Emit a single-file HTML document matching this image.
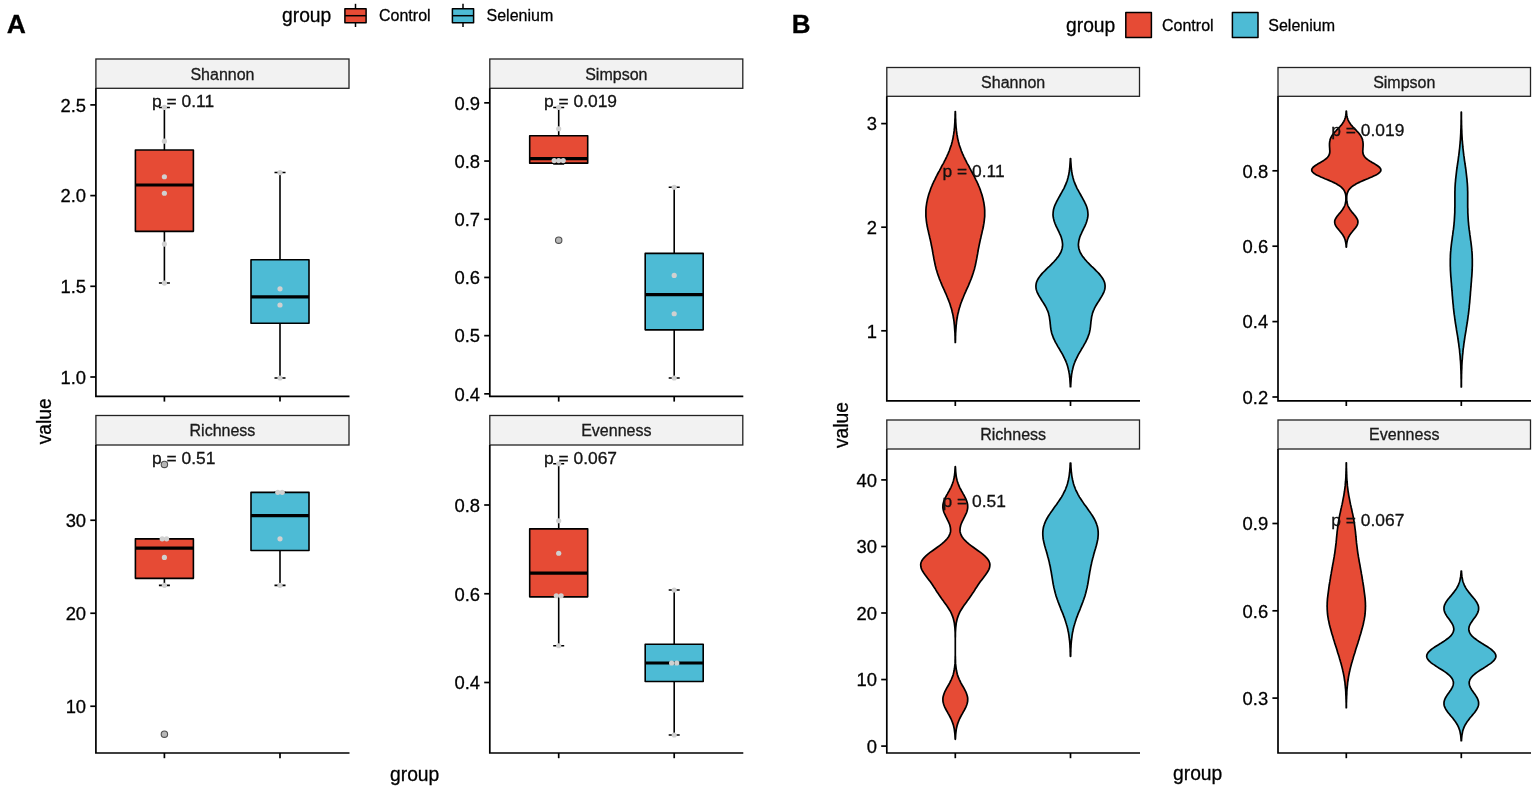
<!DOCTYPE html><html><head><meta charset="utf-8"><title>Figure</title>
<style>html,body{margin:0;padding:0;background:#fff}svg{display:block;filter:blur(.45px)}text{font-family:"Liberation Sans", Arial, sans-serif;stroke:#000;stroke-width:.28px;paint-order:stroke}</style></head><body>
<svg width="1535" height="795" viewBox="0 0 1535 795">
<rect width="1535" height="795" fill="#fff"/>
<text x="6.8" y="33" font-size="26.5" font-weight="bold" fill="#000">A</text>
<text x="282" y="22.4" font-size="19.3" fill="#000">group</text>
<path d="M355.5 3.8V27" stroke="#000" stroke-width="1.5"/>
<rect x="344.9" y="8.7" width="21.2" height="14" fill="#E64B35" stroke="#000" stroke-width="1.5" stroke-linejoin="round"/>
<path d="M344.9 15.7h21.2" stroke="#000" stroke-width="1.5"/>
<path d="M463 3.8V27" stroke="#000" stroke-width="1.5"/>
<rect x="452.4" y="8.7" width="21.2" height="14" fill="#4DBBD5" stroke="#000" stroke-width="1.5" stroke-linejoin="round"/>
<path d="M452.4 15.7h21.2" stroke="#000" stroke-width="1.5"/>
<text x="379" y="21.4" font-size="16" fill="#000">Control</text>
<text x="486.5" y="21.4" font-size="16" fill="#000">Selenium</text>
<text transform="translate(50.5 421.3) rotate(-90)" font-size="19.3" text-anchor="middle" fill="#000">value</text>
<text x="390" y="781.1" font-size="19.3" fill="#000">group</text>
<rect x="95.9" y="59" width="253.1" height="29.3" fill="#f2f2f2" stroke="#222" stroke-width="1.3"/>
<text x="222.45" y="79.6" font-size="16" text-anchor="middle" fill="#1a1a1a">Shannon</text>
<path d="M95.9 88.3V396.4H349.5" fill="none" stroke="#000" stroke-width="1.7"/>
<path d="M164.4 396.4v5.2" stroke="#000" stroke-width="1.7"/>
<path d="M280 396.4v5.2" stroke="#000" stroke-width="1.7"/>
<path d="M90.3 104.9H95.9" stroke="#000" stroke-width="1.7"/>
<text x="86.1" y="111.7" font-size="18.4" text-anchor="end" fill="#000">2.5</text>
<path d="M90.3 195.6H95.9" stroke="#000" stroke-width="1.7"/>
<text x="86.1" y="202.4" font-size="18.4" text-anchor="end" fill="#000">2.0</text>
<path d="M90.3 286.3H95.9" stroke="#000" stroke-width="1.7"/>
<text x="86.1" y="293.1" font-size="18.4" text-anchor="end" fill="#000">1.5</text>
<path d="M90.3 377H95.9" stroke="#000" stroke-width="1.7"/>
<text x="86.1" y="383.8" font-size="18.4" text-anchor="end" fill="#000">1.0</text>
<path d="M164.4 107.44V283.03M158.9 107.44h11M158.9 283.03h11" stroke="#000" stroke-width="1.6" fill="none"/>
<rect x="135.4" y="150.07" width="58" height="81.27" fill="#E64B35" stroke="#000" stroke-width="1.6" stroke-linejoin="round"/>
<path d="M135.4 184.99h58" stroke="#000" stroke-width="3.2"/>
<circle cx="164.4" cy="107.44" r="2.6" fill="#d0d0d0"/>
<circle cx="164.4" cy="141.18" r="2.6" fill="#d0d0d0"/>
<circle cx="164.4" cy="176.73" r="2.6" fill="#d0d0d0"/>
<circle cx="164.4" cy="193.24" r="2.6" fill="#d0d0d0"/>
<circle cx="164.4" cy="244.03" r="2.6" fill="#d0d0d0"/>
<circle cx="164.4" cy="283.03" r="2.6" fill="#d0d0d0"/>
<path d="M280 172.56V378M274.5 172.56h11M274.5 378h11" stroke="#000" stroke-width="1.6" fill="none"/>
<rect x="251" y="259.77" width="58" height="63.47" fill="#4DBBD5" stroke="#000" stroke-width="1.6" stroke-linejoin="round"/>
<path d="M251 296.91h58" stroke="#000" stroke-width="3.2"/>
<circle cx="280" cy="172.56" r="2.6" fill="#d0d0d0"/>
<circle cx="280" cy="288.84" r="2.6" fill="#d0d0d0"/>
<circle cx="280" cy="304.98" r="2.6" fill="#d0d0d0"/>
<circle cx="280" cy="378" r="2.6" fill="#d0d0d0"/>
<text x="152" y="107.1" font-size="17.4" fill="#111">p = 0.11</text>
<rect x="489.8" y="59" width="253" height="29.3" fill="#f2f2f2" stroke="#222" stroke-width="1.3"/>
<text x="616.3" y="79.6" font-size="16" text-anchor="middle" fill="#1a1a1a">Simpson</text>
<path d="M489.8 88.3V396.4H743.3" fill="none" stroke="#000" stroke-width="1.7"/>
<path d="M558.7 396.4v5.2" stroke="#000" stroke-width="1.7"/>
<path d="M674.2 396.4v5.2" stroke="#000" stroke-width="1.7"/>
<path d="M484.2 102.85H489.8" stroke="#000" stroke-width="1.7"/>
<text x="480" y="109.65" font-size="18.4" text-anchor="end" fill="#000">0.9</text>
<path d="M484.2 161.05H489.8" stroke="#000" stroke-width="1.7"/>
<text x="480" y="167.85" font-size="18.4" text-anchor="end" fill="#000">0.8</text>
<path d="M484.2 219.25H489.8" stroke="#000" stroke-width="1.7"/>
<text x="480" y="226.05" font-size="18.4" text-anchor="end" fill="#000">0.7</text>
<path d="M484.2 277.45H489.8" stroke="#000" stroke-width="1.7"/>
<text x="480" y="284.25" font-size="18.4" text-anchor="end" fill="#000">0.6</text>
<path d="M484.2 335.65H489.8" stroke="#000" stroke-width="1.7"/>
<text x="480" y="342.45" font-size="18.4" text-anchor="end" fill="#000">0.5</text>
<path d="M484.2 393.85H489.8" stroke="#000" stroke-width="1.7"/>
<text x="480" y="400.65" font-size="18.4" text-anchor="end" fill="#000">0.4</text>
<path d="M558.7 107.51V163.96M553.2 107.51h11M553.2 163.96h11" stroke="#000" stroke-width="1.6" fill="none"/>
<rect x="529.7" y="135.73" width="58" height="27.43" fill="#E64B35" stroke="#000" stroke-width="1.6" stroke-linejoin="round"/>
<path d="M529.7 158.72h58" stroke="#000" stroke-width="3.2"/>
<circle cx="558.7" cy="240.2" r="3.2" fill="#b8b8b8" stroke="#505050" stroke-width="1.1"/>
<circle cx="554.2" cy="160.58" r="2.6" fill="#d0d0d0"/>
<circle cx="558.7" cy="160.58" r="2.6" fill="#d0d0d0"/>
<circle cx="563.2" cy="160.58" r="2.6" fill="#d0d0d0"/>
<circle cx="558.7" cy="128.75" r="2.6" fill="#d0d0d0"/>
<circle cx="558.7" cy="107.51" r="2.6" fill="#d0d0d0"/>
<path d="M674.2 187.24V378.02M668.7 187.24h11M668.7 378.02h11" stroke="#000" stroke-width="1.6" fill="none"/>
<rect x="645.2" y="253.41" width="58" height="76.42" fill="#4DBBD5" stroke="#000" stroke-width="1.6" stroke-linejoin="round"/>
<path d="M645.2 294.62h58" stroke="#000" stroke-width="3.2"/>
<circle cx="674.2" cy="378.02" r="2.6" fill="#d0d0d0"/>
<circle cx="674.2" cy="313.77" r="2.6" fill="#d0d0d0"/>
<circle cx="674.2" cy="275.47" r="2.6" fill="#d0d0d0"/>
<circle cx="674.2" cy="187.24" r="2.6" fill="#d0d0d0"/>
<text x="544" y="107.1" font-size="17.4" fill="#111">p = 0.019</text>
<rect x="95.9" y="415.5" width="253.1" height="29.5" fill="#f2f2f2" stroke="#222" stroke-width="1.3"/>
<text x="222.45" y="436.3" font-size="16" text-anchor="middle" fill="#1a1a1a">Richness</text>
<path d="M95.9 445V753H349.5" fill="none" stroke="#000" stroke-width="1.7"/>
<path d="M164.4 753v5.2" stroke="#000" stroke-width="1.7"/>
<path d="M280 753v5.2" stroke="#000" stroke-width="1.7"/>
<path d="M90.3 520.25H95.9" stroke="#000" stroke-width="1.7"/>
<text x="86.1" y="527.05" font-size="18.4" text-anchor="end" fill="#000">30</text>
<path d="M90.3 613.25H95.9" stroke="#000" stroke-width="1.7"/>
<text x="86.1" y="620.05" font-size="18.4" text-anchor="end" fill="#000">20</text>
<path d="M90.3 706.25H95.9" stroke="#000" stroke-width="1.7"/>
<text x="86.1" y="713.05" font-size="18.4" text-anchor="end" fill="#000">10</text>
<path d="M164.4 538.85V585.35M158.9 538.85h11M158.9 585.35h11" stroke="#000" stroke-width="1.6" fill="none"/>
<rect x="135.4" y="538.85" width="58" height="39.52" fill="#E64B35" stroke="#000" stroke-width="1.6" stroke-linejoin="round"/>
<path d="M135.4 548.15h58" stroke="#000" stroke-width="3.2"/>
<circle cx="164.4" cy="734.15" r="3.2" fill="#b8b8b8" stroke="#505050" stroke-width="1.1"/>
<circle cx="164.4" cy="464.45" r="3.2" fill="#b8b8b8" stroke="#505050" stroke-width="1.1"/>
<circle cx="164.4" cy="585.35" r="2.6" fill="#d0d0d0"/>
<circle cx="164.4" cy="557.45" r="2.6" fill="#d0d0d0"/>
<circle cx="162.2" cy="538.85" r="2.6" fill="#d0d0d0"/>
<circle cx="166.6" cy="538.85" r="2.6" fill="#d0d0d0"/>
<path d="M280 492.35V585.35M274.5 492.35h11M274.5 585.35h11" stroke="#000" stroke-width="1.6" fill="none"/>
<rect x="251" y="492.35" width="58" height="58.12" fill="#4DBBD5" stroke="#000" stroke-width="1.6" stroke-linejoin="round"/>
<path d="M251 515.6h58" stroke="#000" stroke-width="3.2"/>
<circle cx="280" cy="585.35" r="2.6" fill="#d0d0d0"/>
<circle cx="280" cy="538.85" r="2.6" fill="#d0d0d0"/>
<circle cx="277.8" cy="492.35" r="2.6" fill="#d0d0d0"/>
<circle cx="282.2" cy="492.35" r="2.6" fill="#d0d0d0"/>
<text x="152" y="463.5" font-size="17.4" fill="#111">p = 0.51</text>
<rect x="489.8" y="415.5" width="253" height="29.5" fill="#f2f2f2" stroke="#222" stroke-width="1.3"/>
<text x="616.3" y="436.3" font-size="16" text-anchor="middle" fill="#1a1a1a">Evenness</text>
<path d="M489.8 445V753H743.3" fill="none" stroke="#000" stroke-width="1.7"/>
<path d="M558.7 753v5.2" stroke="#000" stroke-width="1.7"/>
<path d="M674.2 753v5.2" stroke="#000" stroke-width="1.7"/>
<path d="M484.2 505H489.8" stroke="#000" stroke-width="1.7"/>
<text x="480" y="511.8" font-size="18.4" text-anchor="end" fill="#000">0.8</text>
<path d="M484.2 593.75H489.8" stroke="#000" stroke-width="1.7"/>
<text x="480" y="600.55" font-size="18.4" text-anchor="end" fill="#000">0.6</text>
<path d="M484.2 682.5H489.8" stroke="#000" stroke-width="1.7"/>
<text x="480" y="689.3" font-size="18.4" text-anchor="end" fill="#000">0.4</text>
<path d="M558.7 463.73V645.76M553.2 463.73h11M553.2 645.76h11" stroke="#000" stroke-width="1.6" fill="none"/>
<rect x="529.7" y="528.87" width="58" height="67.98" fill="#E64B35" stroke="#000" stroke-width="1.6" stroke-linejoin="round"/>
<path d="M529.7 573.05h58" stroke="#000" stroke-width="3.2"/>
<circle cx="558.7" cy="645.76" r="2.6" fill="#d0d0d0"/>
<circle cx="556.3" cy="595.75" r="2.6" fill="#d0d0d0"/>
<circle cx="561.1" cy="595.75" r="2.6" fill="#d0d0d0"/>
<circle cx="558.7" cy="553.24" r="2.6" fill="#d0d0d0"/>
<circle cx="558.7" cy="520.75" r="2.6" fill="#d0d0d0"/>
<circle cx="558.7" cy="463.73" r="2.6" fill="#d0d0d0"/>
<path d="M674.2 589.98V735M668.7 589.98h11M668.7 735h11" stroke="#000" stroke-width="1.6" fill="none"/>
<rect x="645.2" y="644.23" width="58" height="37.25" fill="#4DBBD5" stroke="#000" stroke-width="1.6" stroke-linejoin="round"/>
<path d="M645.2 662.98h58" stroke="#000" stroke-width="3.2"/>
<circle cx="674.2" cy="735" r="2.6" fill="#d0d0d0"/>
<circle cx="671.6" cy="662.98" r="2.6" fill="#d0d0d0"/>
<circle cx="676.8" cy="662.98" r="2.6" fill="#d0d0d0"/>
<circle cx="674.2" cy="589.98" r="2.6" fill="#d0d0d0"/>
<text x="544" y="463.5" font-size="17.4" fill="#111">p = 0.067</text>
<text x="791.8" y="33" font-size="26" font-weight="bold" fill="#000">B</text>
<text x="1066" y="31.9" font-size="19.3" fill="#000">group</text>
<rect x="1125.8" y="12.5" width="25.6" height="24.9" stroke-linejoin="round" fill="#E64B35" stroke="#000" stroke-width="1.5"/>
<rect x="1232.4" y="12.5" width="25.6" height="24.9" stroke-linejoin="round" fill="#4DBBD5" stroke="#000" stroke-width="1.5"/>
<text x="1162" y="30.5" font-size="16" fill="#000">Control</text>
<text x="1268.3" y="30.5" font-size="16" fill="#000">Selenium</text>
<text transform="translate(847.5 425) rotate(-90)" font-size="19.3" text-anchor="middle" fill="#000">value</text>
<text x="1173" y="780.3" font-size="19.3" fill="#000">group</text>
<rect x="886.8" y="67.5" width="252.7" height="28.8" fill="#f2f2f2" stroke="#222" stroke-width="1.3"/>
<text x="1013.15" y="88" font-size="16" text-anchor="middle" fill="#1a1a1a">Shannon</text>
<path d="M886.8 96.3V400.8H1140" fill="none" stroke="#000" stroke-width="1.7"/>
<path d="M955.3 400.8v5.2" stroke="#000" stroke-width="1.7"/>
<path d="M1070.5 400.8v5.2" stroke="#000" stroke-width="1.7"/>
<path d="M881.2 123.6H886.8" stroke="#000" stroke-width="1.7"/>
<text x="877" y="130.4" font-size="18.4" text-anchor="end" fill="#000">3</text>
<path d="M881.2 227.2H886.8" stroke="#000" stroke-width="1.7"/>
<text x="877" y="234" font-size="18.4" text-anchor="end" fill="#000">2</text>
<path d="M881.2 330.8H886.8" stroke="#000" stroke-width="1.7"/>
<text x="877" y="337.6" font-size="18.4" text-anchor="end" fill="#000">1</text>
<path d="M955.2 342.5L955.2 341.0L955.1 339.6L955.1 338.1L955.1 336.7L955.0 335.2L955.0 333.8L954.9 332.3L954.8 330.9L954.7 329.4L954.6 328.0L954.5 326.5L954.4 325.1L954.2 323.6L954.1 322.1L953.9 320.7L953.7 319.2L953.4 317.8L953.2 316.3L952.9 314.9L952.6 313.4L952.2 312.0L951.9 310.5L951.5 309.1L951.1 307.6L950.6 306.2L950.2 304.7L949.7 303.3L949.1 301.8L948.6 300.4L948.0 298.9L947.4 297.5L946.8 296.0L946.2 294.5L945.6 293.1L944.9 291.6L944.3 290.2L943.6 288.7L943.0 287.3L942.3 285.8L941.7 284.4L941.1 282.9L940.5 281.5L939.9 280.0L939.3 278.6L938.8 277.1L938.3 275.7L937.8 274.2L937.3 272.8L936.9 271.3L936.4 269.8L936.0 268.4L935.7 266.9L935.3 265.5L935.0 264.0L934.7 262.6L934.4 261.1L934.1 259.7L933.8 258.2L933.6 256.8L933.3 255.3L933.0 253.9L932.8 252.4L932.5 251.0L932.3 249.5L932.0 248.1L931.7 246.6L931.4 245.2L931.1 243.7L930.8 242.2L930.5 240.8L930.2 239.3L929.8 237.9L929.5 236.4L929.2 235.0L928.8 233.5L928.5 232.1L928.2 230.6L927.8 229.2L927.5 227.7L927.2 226.3L927.0 224.8L926.7 223.4L926.5 221.9L926.3 220.5L926.2 219.0L926.0 217.5L925.9 216.1L925.9 214.6L925.9 213.2L925.9 211.7L925.9 210.3L926.0 208.8L926.1 207.4L926.3 205.9L926.5 204.5L926.7 203.0L927.0 201.6L927.3 200.1L927.6 198.7L928.0 197.2L928.4 195.8L928.8 194.3L929.3 192.9L929.8 191.4L930.3 189.9L930.8 188.5L931.4 187.0L932.0 185.6L932.6 184.1L933.3 182.7L934.0 181.2L934.7 179.8L935.4 178.3L936.1 176.9L936.9 175.4L937.6 174.0L938.4 172.5L939.2 171.1L940.0 169.6L940.8 168.2L941.5 166.7L942.3 165.2L943.1 163.8L943.9 162.3L944.6 160.9L945.4 159.4L946.1 158.0L946.8 156.5L947.4 155.1L948.1 153.6L948.7 152.2L949.3 150.7L949.8 149.3L950.3 147.8L950.8 146.4L951.3 144.9L951.7 143.5L952.1 142.0L952.4 140.6L952.8 139.1L953.1 137.6L953.3 136.2L953.6 134.7L953.8 133.3L954.0 131.8L954.2 130.4L954.3 128.9L954.5 127.5L954.6 126.0L954.7 124.6L954.8 123.1L954.9 121.7L954.9 120.2L955.0 118.8L955.1 117.3L955.1 115.9L955.1 114.4L955.2 113.0L955.2 111.5L955.4 111.5L955.4 113.0L955.5 114.4L955.5 115.9L955.5 117.3L955.6 118.8L955.7 120.2L955.7 121.7L955.8 123.1L955.9 124.6L956.0 126.0L956.1 127.5L956.3 128.9L956.4 130.4L956.6 131.8L956.8 133.3L957.0 134.7L957.3 136.2L957.5 137.6L957.8 139.1L958.2 140.6L958.5 142.0L958.9 143.5L959.3 144.9L959.8 146.4L960.3 147.8L960.8 149.3L961.3 150.7L961.9 152.2L962.5 153.6L963.2 155.1L963.8 156.5L964.5 158.0L965.2 159.4L966.0 160.9L966.7 162.3L967.5 163.8L968.3 165.2L969.1 166.7L969.8 168.2L970.6 169.6L971.4 171.1L972.2 172.5L973.0 174.0L973.7 175.4L974.5 176.9L975.2 178.3L975.9 179.8L976.6 181.2L977.3 182.7L978.0 184.1L978.6 185.6L979.2 187.0L979.8 188.5L980.3 189.9L980.8 191.4L981.3 192.9L981.8 194.3L982.2 195.8L982.6 197.2L983.0 198.7L983.3 200.1L983.6 201.6L983.9 203.0L984.1 204.5L984.3 205.9L984.5 207.4L984.6 208.8L984.7 210.3L984.7 211.7L984.7 213.2L984.7 214.6L984.7 216.1L984.6 217.5L984.4 219.0L984.3 220.5L984.1 221.9L983.9 223.4L983.6 224.8L983.4 226.3L983.1 227.7L982.8 229.2L982.4 230.6L982.1 232.1L981.8 233.5L981.4 235.0L981.1 236.4L980.8 237.9L980.4 239.3L980.1 240.8L979.8 242.2L979.5 243.7L979.2 245.2L978.9 246.6L978.6 248.1L978.3 249.5L978.1 251.0L977.8 252.4L977.6 253.9L977.3 255.3L977.0 256.8L976.8 258.2L976.5 259.7L976.2 261.1L975.9 262.6L975.6 264.0L975.3 265.5L974.9 266.9L974.6 268.4L974.2 269.8L973.7 271.3L973.3 272.8L972.8 274.2L972.3 275.7L971.8 277.1L971.3 278.6L970.7 280.0L970.1 281.5L969.5 282.9L968.9 284.4L968.3 285.8L967.6 287.3L967.0 288.7L966.3 290.2L965.7 291.6L965.0 293.1L964.4 294.5L963.8 296.0L963.2 297.5L962.6 298.9L962.0 300.4L961.5 301.8L960.9 303.3L960.4 304.7L960.0 306.2L959.5 307.6L959.1 309.1L958.7 310.5L958.4 312.0L958.0 313.4L957.7 314.9L957.4 316.3L957.2 317.8L956.9 319.2L956.7 320.7L956.5 322.1L956.4 323.6L956.2 325.1L956.1 326.5L956.0 328.0L955.9 329.4L955.8 330.9L955.7 332.3L955.6 333.8L955.6 335.2L955.5 336.7L955.5 338.1L955.5 339.6L955.4 341.0L955.4 342.5Z" fill="#E64B35" stroke="#000" stroke-width="1.7" stroke-linejoin="round"/>
<path d="M1070.3 386.7L1070.3 385.3L1070.2 383.9L1070.1 382.4L1070.0 381.0L1069.9 379.5L1069.8 378.1L1069.6 376.7L1069.5 375.2L1069.3 373.8L1069.0 372.4L1068.8 370.9L1068.4 369.5L1068.1 368.1L1067.7 366.6L1067.3 365.2L1066.8 363.8L1066.2 362.3L1065.7 360.9L1065.0 359.5L1064.3 358.0L1063.6 356.6L1062.9 355.2L1062.1 353.7L1061.3 352.3L1060.4 350.9L1059.6 349.4L1058.8 348.0L1057.9 346.6L1057.1 345.1L1056.3 343.7L1055.5 342.3L1054.8 340.8L1054.1 339.4L1053.4 338.0L1052.9 336.5L1052.4 335.1L1051.9 333.7L1051.5 332.2L1051.2 330.8L1050.9 329.4L1050.7 327.9L1050.5 326.5L1050.4 325.1L1050.2 323.6L1050.1 322.2L1049.9 320.7L1049.7 319.3L1049.5 317.9L1049.3 316.4L1048.9 315.0L1048.6 313.6L1048.1 312.1L1047.6 310.7L1046.9 309.3L1046.3 307.8L1045.5 306.4L1044.7 305.0L1043.8 303.5L1042.9 302.1L1042.0 300.7L1041.1 299.2L1040.2 297.8L1039.3 296.4L1038.5 294.9L1037.8 293.5L1037.1 292.1L1036.6 290.6L1036.2 289.2L1036.0 287.8L1035.9 286.3L1036.0 284.9L1036.2 283.5L1036.6 282.0L1037.2 280.6L1037.9 279.2L1038.8 277.7L1039.9 276.3L1041.0 274.9L1042.2 273.4L1043.6 272.0L1045.0 270.6L1046.4 269.1L1047.9 267.7L1049.4 266.3L1050.9 264.8L1052.3 263.4L1053.7 262.0L1055.0 260.5L1056.3 259.1L1057.4 257.6L1058.5 256.2L1059.4 254.8L1060.3 253.3L1061.0 251.9L1061.5 250.5L1062.0 249.0L1062.3 247.6L1062.5 246.2L1062.6 244.7L1062.5 243.3L1062.3 241.9L1062.1 240.4L1061.7 239.0L1061.3 237.6L1060.8 236.1L1060.2 234.7L1059.5 233.3L1058.9 231.8L1058.2 230.4L1057.5 229.0L1056.8 227.5L1056.1 226.1L1055.5 224.7L1054.9 223.2L1054.4 221.8L1054.0 220.4L1053.6 218.9L1053.3 217.5L1053.1 216.1L1053.0 214.6L1053.1 213.2L1053.2 211.8L1053.4 210.3L1053.7 208.9L1054.1 207.5L1054.6 206.0L1055.2 204.6L1055.9 203.2L1056.6 201.7L1057.3 200.3L1058.1 198.8L1058.9 197.4L1059.7 196.0L1060.5 194.5L1061.3 193.1L1062.1 191.7L1062.9 190.2L1063.7 188.8L1064.4 187.4L1065.0 185.9L1065.7 184.5L1066.2 183.1L1066.8 181.6L1067.3 180.2L1067.7 178.8L1068.1 177.3L1068.4 175.9L1068.8 174.5L1069.0 173.0L1069.3 171.6L1069.5 170.2L1069.6 168.7L1069.8 167.3L1069.9 165.9L1070.0 164.4L1070.1 163.0L1070.2 161.6L1070.3 160.1L1070.3 158.7L1070.7 158.7L1070.7 160.1L1070.8 161.6L1070.9 163.0L1071.0 164.4L1071.1 165.9L1071.2 167.3L1071.4 168.7L1071.5 170.2L1071.7 171.6L1072.0 173.0L1072.2 174.5L1072.6 175.9L1072.9 177.3L1073.3 178.8L1073.7 180.2L1074.2 181.6L1074.8 183.1L1075.3 184.5L1076.0 185.9L1076.6 187.4L1077.3 188.8L1078.1 190.2L1078.9 191.7L1079.7 193.1L1080.5 194.5L1081.3 196.0L1082.1 197.4L1082.9 198.8L1083.7 200.3L1084.4 201.7L1085.1 203.2L1085.8 204.6L1086.4 206.0L1086.9 207.5L1087.3 208.9L1087.6 210.3L1087.8 211.8L1087.9 213.2L1088.0 214.6L1087.9 216.1L1087.7 217.5L1087.4 218.9L1087.0 220.4L1086.6 221.8L1086.1 223.2L1085.5 224.7L1084.9 226.1L1084.2 227.5L1083.5 229.0L1082.8 230.4L1082.1 231.8L1081.5 233.3L1080.8 234.7L1080.2 236.1L1079.7 237.6L1079.3 239.0L1078.9 240.4L1078.7 241.9L1078.5 243.3L1078.4 244.7L1078.5 246.2L1078.7 247.6L1079.0 249.0L1079.5 250.5L1080.0 251.9L1080.7 253.3L1081.6 254.8L1082.5 256.2L1083.6 257.6L1084.7 259.1L1086.0 260.5L1087.3 262.0L1088.7 263.4L1090.1 264.8L1091.6 266.3L1093.1 267.7L1094.6 269.1L1096.0 270.6L1097.4 272.0L1098.8 273.4L1100.0 274.9L1101.1 276.3L1102.2 277.7L1103.1 279.2L1103.8 280.6L1104.4 282.0L1104.8 283.5L1105.0 284.9L1105.1 286.3L1105.0 287.8L1104.8 289.2L1104.4 290.6L1103.9 292.1L1103.2 293.5L1102.5 294.9L1101.7 296.4L1100.8 297.8L1099.9 299.2L1099.0 300.7L1098.1 302.1L1097.2 303.5L1096.3 305.0L1095.5 306.4L1094.7 307.8L1094.1 309.3L1093.4 310.7L1092.9 312.1L1092.4 313.6L1092.1 315.0L1091.7 316.4L1091.5 317.9L1091.3 319.3L1091.1 320.7L1090.9 322.2L1090.8 323.6L1090.6 325.1L1090.5 326.5L1090.3 327.9L1090.1 329.4L1089.8 330.8L1089.5 332.2L1089.1 333.7L1088.6 335.1L1088.1 336.5L1087.6 338.0L1086.9 339.4L1086.2 340.8L1085.5 342.3L1084.7 343.7L1083.9 345.1L1083.1 346.6L1082.2 348.0L1081.4 349.4L1080.6 350.9L1079.7 352.3L1078.9 353.7L1078.1 355.2L1077.4 356.6L1076.7 358.0L1076.0 359.5L1075.3 360.9L1074.8 362.3L1074.2 363.8L1073.7 365.2L1073.3 366.6L1072.9 368.1L1072.6 369.5L1072.2 370.9L1072.0 372.4L1071.7 373.8L1071.5 375.2L1071.4 376.7L1071.2 378.1L1071.1 379.5L1071.0 381.0L1070.9 382.4L1070.8 383.9L1070.7 385.3L1070.7 386.7Z" fill="#4DBBD5" stroke="#000" stroke-width="1.7" stroke-linejoin="round"/>
<text x="942.6" y="176.8" font-size="17.4" fill="#111">p = 0.11</text>
<rect x="1278" y="67.5" width="252.5" height="28.8" fill="#f2f2f2" stroke="#222" stroke-width="1.3"/>
<text x="1404.25" y="88" font-size="16" text-anchor="middle" fill="#1a1a1a">Simpson</text>
<path d="M1278 96.3V400.8H1531" fill="none" stroke="#000" stroke-width="1.7"/>
<path d="M1346.3 400.8v5.2" stroke="#000" stroke-width="1.7"/>
<path d="M1461.3 400.8v5.2" stroke="#000" stroke-width="1.7"/>
<path d="M1272.4 170.8H1278" stroke="#000" stroke-width="1.7"/>
<text x="1268.2" y="177.6" font-size="18.4" text-anchor="end" fill="#000">0.8</text>
<path d="M1272.4 246.2H1278" stroke="#000" stroke-width="1.7"/>
<text x="1268.2" y="253" font-size="18.4" text-anchor="end" fill="#000">0.6</text>
<path d="M1272.4 321.6H1278" stroke="#000" stroke-width="1.7"/>
<text x="1268.2" y="328.4" font-size="18.4" text-anchor="end" fill="#000">0.4</text>
<path d="M1272.4 397H1278" stroke="#000" stroke-width="1.7"/>
<text x="1268.2" y="403.8" font-size="18.4" text-anchor="end" fill="#000">0.2</text>
<path d="M1346.2 247.1L1346.1 246.2L1346.1 245.4L1346.0 244.5L1345.9 243.7L1345.8 242.8L1345.6 242.0L1345.4 241.1L1345.2 240.2L1345.0 239.4L1344.6 238.5L1344.3 237.7L1343.9 236.8L1343.4 236.0L1342.9 235.1L1342.3 234.3L1341.7 233.4L1341.0 232.5L1340.3 231.7L1339.6 230.8L1338.9 230.0L1338.2 229.1L1337.5 228.3L1336.8 227.4L1336.2 226.6L1335.7 225.7L1335.3 224.9L1335.0 224.0L1334.8 223.1L1334.7 222.3L1334.7 221.4L1334.8 220.6L1335.1 219.7L1335.5 218.9L1336.0 218.0L1336.5 217.2L1337.1 216.3L1337.8 215.4L1338.5 214.6L1339.2 213.7L1340.0 212.9L1340.7 212.0L1341.3 211.2L1342.0 210.3L1342.6 209.5L1343.1 208.6L1343.6 207.7L1344.1 206.9L1344.5 206.0L1344.8 205.2L1345.1 204.3L1345.3 203.5L1345.5 202.6L1345.7 201.8L1345.8 200.9L1345.9 200.0L1345.9 199.2L1345.9 198.3L1345.9 197.5L1345.9 196.6L1345.8 195.8L1345.7 194.9L1345.5 194.1L1345.3 193.2L1345.0 192.4L1344.6 191.5L1344.2 190.6L1343.7 189.8L1343.0 188.9L1342.2 188.1L1341.3 187.2L1340.3 186.4L1339.1 185.5L1337.7 184.7L1336.3 183.8L1334.6 182.9L1332.8 182.1L1330.9 181.2L1329.0 180.4L1326.9 179.5L1324.9 178.7L1322.8 177.8L1320.8 177.0L1318.9 176.1L1317.1 175.2L1315.6 174.4L1314.2 173.5L1313.2 172.7L1312.4 171.8L1311.9 171.0L1311.7 170.1L1311.8 169.3L1312.2 168.4L1312.9 167.5L1313.8 166.7L1315.0 165.8L1316.2 165.0L1317.6 164.1L1319.0 163.3L1320.5 162.4L1321.9 161.6L1323.3 160.7L1324.5 159.9L1325.7 159.0L1326.7 158.1L1327.5 157.3L1328.2 156.4L1328.8 155.6L1329.2 154.7L1329.5 153.9L1329.7 153.0L1329.8 152.2L1329.8 151.3L1329.8 150.4L1329.7 149.6L1329.7 148.7L1329.6 147.9L1329.6 147.0L1329.5 146.2L1329.5 145.3L1329.5 144.5L1329.5 143.6L1329.6 142.7L1329.7 141.9L1329.8 141.0L1330.0 140.2L1330.2 139.3L1330.5 138.5L1330.9 137.6L1331.3 136.8L1331.8 135.9L1332.4 135.0L1333.0 134.2L1333.7 133.3L1334.4 132.5L1335.2 131.6L1336.0 130.8L1336.8 129.9L1337.6 129.1L1338.5 128.2L1339.3 127.3L1340.1 126.5L1340.8 125.6L1341.6 124.8L1342.2 123.9L1342.8 123.1L1343.3 122.2L1343.8 121.4L1344.3 120.5L1344.6 119.7L1344.9 118.8L1345.2 117.9L1345.4 117.1L1345.6 116.2L1345.8 115.4L1345.9 114.5L1346.0 113.7L1346.1 112.8L1346.1 112.0L1346.2 111.1L1346.4 111.1L1346.5 112.0L1346.5 112.8L1346.6 113.7L1346.7 114.5L1346.8 115.4L1347.0 116.2L1347.2 117.1L1347.4 117.9L1347.7 118.8L1348.0 119.7L1348.3 120.5L1348.8 121.4L1349.3 122.2L1349.8 123.1L1350.4 123.9L1351.0 124.8L1351.8 125.6L1352.5 126.5L1353.3 127.3L1354.1 128.2L1355.0 129.1L1355.8 129.9L1356.6 130.8L1357.4 131.6L1358.2 132.5L1358.9 133.3L1359.6 134.2L1360.2 135.0L1360.8 135.9L1361.3 136.8L1361.7 137.6L1362.1 138.5L1362.4 139.3L1362.6 140.2L1362.8 141.0L1362.9 141.9L1363.0 142.7L1363.1 143.6L1363.1 144.5L1363.1 145.3L1363.1 146.2L1363.0 147.0L1363.0 147.9L1362.9 148.7L1362.9 149.6L1362.8 150.4L1362.8 151.3L1362.8 152.2L1362.9 153.0L1363.1 153.9L1363.4 154.7L1363.8 155.6L1364.4 156.4L1365.1 157.3L1365.9 158.1L1366.9 159.0L1368.1 159.9L1369.3 160.7L1370.7 161.6L1372.1 162.4L1373.6 163.3L1375.0 164.1L1376.4 165.0L1377.6 165.8L1378.8 166.7L1379.7 167.5L1380.4 168.4L1380.8 169.3L1380.9 170.1L1380.7 171.0L1380.2 171.8L1379.4 172.7L1378.4 173.5L1377.0 174.4L1375.5 175.2L1373.7 176.1L1371.8 177.0L1369.8 177.8L1367.7 178.7L1365.7 179.5L1363.6 180.4L1361.7 181.2L1359.8 182.1L1358.0 182.9L1356.3 183.8L1354.9 184.7L1353.5 185.5L1352.3 186.4L1351.3 187.2L1350.4 188.1L1349.6 188.9L1348.9 189.8L1348.4 190.6L1348.0 191.5L1347.6 192.4L1347.3 193.2L1347.1 194.1L1346.9 194.9L1346.8 195.8L1346.7 196.6L1346.7 197.5L1346.7 198.3L1346.7 199.2L1346.7 200.0L1346.8 200.9L1346.9 201.8L1347.1 202.6L1347.3 203.5L1347.5 204.3L1347.8 205.2L1348.1 206.0L1348.5 206.9L1349.0 207.7L1349.5 208.6L1350.0 209.5L1350.6 210.3L1351.3 211.2L1351.9 212.0L1352.6 212.9L1353.4 213.7L1354.1 214.6L1354.8 215.4L1355.5 216.3L1356.1 217.2L1356.6 218.0L1357.1 218.9L1357.5 219.7L1357.8 220.6L1357.9 221.4L1357.9 222.3L1357.8 223.1L1357.6 224.0L1357.3 224.9L1356.9 225.7L1356.4 226.6L1355.8 227.4L1355.1 228.3L1354.4 229.1L1353.7 230.0L1353.0 230.8L1352.3 231.7L1351.6 232.5L1350.9 233.4L1350.3 234.3L1349.7 235.1L1349.2 236.0L1348.7 236.8L1348.3 237.7L1348.0 238.5L1347.6 239.4L1347.4 240.2L1347.2 241.1L1347.0 242.0L1346.8 242.8L1346.7 243.7L1346.6 244.5L1346.5 245.4L1346.5 246.2L1346.4 247.1Z" fill="#E64B35" stroke="#000" stroke-width="1.7" stroke-linejoin="round"/>
<path d="M1461.2 386.9L1461.2 385.2L1461.2 383.5L1461.2 381.7L1461.2 380.0L1461.1 378.3L1461.1 376.6L1461.1 374.8L1461.0 373.1L1461.0 371.4L1460.9 369.7L1460.8 367.9L1460.8 366.2L1460.7 364.5L1460.6 362.7L1460.5 361.0L1460.3 359.3L1460.2 357.6L1460.1 355.8L1459.9 354.1L1459.7 352.4L1459.6 350.6L1459.4 348.9L1459.1 347.2L1458.9 345.5L1458.7 343.7L1458.4 342.0L1458.2 340.3L1457.9 338.5L1457.7 336.8L1457.4 335.1L1457.1 333.4L1456.8 331.6L1456.5 329.9L1456.3 328.2L1456.0 326.5L1455.7 324.7L1455.4 323.0L1455.2 321.3L1454.9 319.5L1454.7 317.8L1454.5 316.1L1454.2 314.4L1454.0 312.6L1453.8 310.9L1453.6 309.2L1453.4 307.4L1453.3 305.7L1453.1 304.0L1452.9 302.3L1452.8 300.5L1452.6 298.8L1452.5 297.1L1452.3 295.3L1452.2 293.6L1452.1 291.9L1451.9 290.2L1451.8 288.4L1451.6 286.7L1451.5 285.0L1451.4 283.3L1451.2 281.5L1451.1 279.8L1451.0 278.1L1450.8 276.3L1450.7 274.6L1450.6 272.9L1450.5 271.2L1450.4 269.4L1450.4 267.7L1450.3 266.0L1450.3 264.2L1450.3 262.5L1450.3 260.8L1450.3 259.1L1450.4 257.3L1450.4 255.6L1450.5 253.9L1450.6 252.1L1450.8 250.4L1450.9 248.7L1451.1 247.0L1451.3 245.2L1451.5 243.5L1451.7 241.8L1452.0 240.1L1452.2 238.3L1452.4 236.6L1452.7 234.9L1452.9 233.1L1453.1 231.4L1453.4 229.7L1453.6 228.0L1453.8 226.2L1454.0 224.5L1454.1 222.8L1454.3 221.0L1454.4 219.3L1454.5 217.6L1454.6 215.9L1454.7 214.1L1454.8 212.4L1454.8 210.7L1454.8 208.9L1454.9 207.2L1454.9 205.5L1454.9 203.8L1454.9 202.0L1454.9 200.3L1454.9 198.6L1454.9 196.9L1454.9 195.1L1454.9 193.4L1454.9 191.7L1455.0 189.9L1455.0 188.2L1455.1 186.5L1455.2 184.8L1455.3 183.0L1455.5 181.3L1455.6 179.6L1455.8 177.8L1456.0 176.1L1456.2 174.4L1456.4 172.7L1456.6 170.9L1456.8 169.2L1457.1 167.5L1457.3 165.7L1457.6 164.0L1457.8 162.3L1458.1 160.6L1458.3 158.8L1458.5 157.1L1458.8 155.4L1459.0 153.6L1459.2 151.9L1459.4 150.2L1459.6 148.5L1459.8 146.7L1459.9 145.0L1460.1 143.3L1460.2 141.6L1460.4 139.8L1460.5 138.1L1460.6 136.4L1460.7 134.6L1460.8 132.9L1460.8 131.2L1460.9 129.5L1461.0 127.7L1461.0 126.0L1461.1 124.3L1461.1 122.5L1461.1 120.8L1461.2 119.1L1461.2 117.4L1461.2 115.6L1461.2 113.9L1461.2 112.2L1461.4 112.2L1461.4 113.9L1461.4 115.6L1461.4 117.4L1461.4 119.1L1461.5 120.8L1461.5 122.5L1461.5 124.3L1461.6 126.0L1461.6 127.7L1461.7 129.5L1461.8 131.2L1461.8 132.9L1461.9 134.6L1462.0 136.4L1462.1 138.1L1462.2 139.8L1462.4 141.6L1462.5 143.3L1462.7 145.0L1462.8 146.7L1463.0 148.5L1463.2 150.2L1463.4 151.9L1463.6 153.6L1463.8 155.4L1464.1 157.1L1464.3 158.8L1464.5 160.6L1464.8 162.3L1465.0 164.0L1465.3 165.7L1465.5 167.5L1465.8 169.2L1466.0 170.9L1466.2 172.7L1466.4 174.4L1466.6 176.1L1466.8 177.8L1467.0 179.6L1467.1 181.3L1467.3 183.0L1467.4 184.8L1467.5 186.5L1467.6 188.2L1467.6 189.9L1467.7 191.7L1467.7 193.4L1467.7 195.1L1467.7 196.9L1467.7 198.6L1467.7 200.3L1467.7 202.0L1467.7 203.8L1467.7 205.5L1467.7 207.2L1467.8 208.9L1467.8 210.7L1467.8 212.4L1467.9 214.1L1468.0 215.9L1468.1 217.6L1468.2 219.3L1468.3 221.0L1468.5 222.8L1468.6 224.5L1468.8 226.2L1469.0 228.0L1469.2 229.7L1469.5 231.4L1469.7 233.1L1469.9 234.9L1470.2 236.6L1470.4 238.3L1470.6 240.1L1470.9 241.8L1471.1 243.5L1471.3 245.2L1471.5 247.0L1471.7 248.7L1471.8 250.4L1472.0 252.1L1472.1 253.9L1472.2 255.6L1472.2 257.3L1472.3 259.1L1472.3 260.8L1472.3 262.5L1472.3 264.2L1472.3 266.0L1472.2 267.7L1472.2 269.4L1472.1 271.2L1472.0 272.9L1471.9 274.6L1471.8 276.3L1471.6 278.1L1471.5 279.8L1471.4 281.5L1471.2 283.3L1471.1 285.0L1471.0 286.7L1470.8 288.4L1470.7 290.2L1470.5 291.9L1470.4 293.6L1470.3 295.3L1470.1 297.1L1470.0 298.8L1469.8 300.5L1469.7 302.3L1469.5 304.0L1469.3 305.7L1469.2 307.4L1469.0 309.2L1468.8 310.9L1468.6 312.6L1468.4 314.4L1468.1 316.1L1467.9 317.8L1467.7 319.5L1467.4 321.3L1467.2 323.0L1466.9 324.7L1466.6 326.5L1466.3 328.2L1466.1 329.9L1465.8 331.6L1465.5 333.4L1465.2 335.1L1464.9 336.8L1464.7 338.5L1464.4 340.3L1464.2 342.0L1463.9 343.7L1463.7 345.5L1463.5 347.2L1463.2 348.9L1463.0 350.6L1462.9 352.4L1462.7 354.1L1462.5 355.8L1462.4 357.6L1462.3 359.3L1462.1 361.0L1462.0 362.7L1461.9 364.5L1461.8 366.2L1461.8 367.9L1461.7 369.7L1461.6 371.4L1461.6 373.1L1461.5 374.8L1461.5 376.6L1461.5 378.3L1461.4 380.0L1461.4 381.7L1461.4 383.5L1461.4 385.2L1461.4 386.9Z" fill="#4DBBD5" stroke="#000" stroke-width="1.7" stroke-linejoin="round"/>
<text x="1331.3" y="135.8" font-size="17.4" fill="#111">p = 0.019</text>
<rect x="886.8" y="420" width="252.7" height="29" fill="#f2f2f2" stroke="#222" stroke-width="1.3"/>
<text x="1013.15" y="440" font-size="16" text-anchor="middle" fill="#1a1a1a">Richness</text>
<path d="M886.8 449V753H1140" fill="none" stroke="#000" stroke-width="1.7"/>
<path d="M955.3 753v5.2" stroke="#000" stroke-width="1.7"/>
<path d="M1070.5 753v5.2" stroke="#000" stroke-width="1.7"/>
<path d="M881.2 479.9H886.8" stroke="#000" stroke-width="1.7"/>
<text x="877" y="486.7" font-size="18.4" text-anchor="end" fill="#000">40</text>
<path d="M881.2 546.45H886.8" stroke="#000" stroke-width="1.7"/>
<text x="877" y="553.25" font-size="18.4" text-anchor="end" fill="#000">30</text>
<path d="M881.2 613H886.8" stroke="#000" stroke-width="1.7"/>
<text x="877" y="619.8" font-size="18.4" text-anchor="end" fill="#000">20</text>
<path d="M881.2 679.55H886.8" stroke="#000" stroke-width="1.7"/>
<text x="877" y="686.35" font-size="18.4" text-anchor="end" fill="#000">10</text>
<path d="M881.2 746.1H886.8" stroke="#000" stroke-width="1.7"/>
<text x="877" y="752.9" font-size="18.4" text-anchor="end" fill="#000">0</text>
<path d="M955.2 739.3L955.1 737.6L955.0 735.9L954.9 734.2L954.7 732.5L954.5 730.8L954.3 729.1L953.9 727.3L953.5 725.6L953.0 723.9L952.4 722.2L951.7 720.5L951.0 718.8L950.1 717.0L949.2 715.3L948.2 713.6L947.3 711.9L946.3 710.2L945.4 708.5L944.6 706.8L943.9 705.0L943.4 703.3L943.0 701.6L942.9 699.9L942.9 698.2L943.2 696.5L943.7 694.8L944.3 693.0L945.0 691.3L945.9 689.6L946.8 687.9L947.8 686.2L948.8 684.5L949.7 682.8L950.6 681.0L951.4 679.3L952.1 677.6L952.8 675.9L953.3 674.2L953.7 672.5L954.1 670.8L954.4 669.0L954.6 667.3L954.8 665.6L955.0 663.9L955.1 662.2L955.1 660.5L955.2 658.7L955.2 657.0L955.3 655.3L955.3 653.6L955.3 651.9L955.3 650.2L955.3 648.5L955.3 646.7L955.3 645.0L955.3 643.3L955.3 641.6L955.3 639.9L955.3 638.2L955.2 636.5L955.2 634.7L955.2 633.0L955.1 631.3L955.0 629.6L954.9 627.9L954.7 626.2L954.5 624.5L954.3 622.7L953.9 621.0L953.5 619.3L953.0 617.6L952.4 615.9L951.7 614.2L950.9 612.4L950.0 610.7L948.9 609.0L947.8 607.3L946.7 605.6L945.5 603.9L944.2 602.2L943.0 600.4L941.7 598.7L940.5 597.0L939.3 595.3L938.2 593.6L937.0 591.9L935.9 590.2L934.9 588.4L933.7 586.7L932.6 585.0L931.4 583.3L930.2 581.6L928.9 579.9L927.6 578.2L926.3 576.4L925.0 574.7L923.8 573.0L922.7 571.3L921.8 569.6L921.1 567.9L920.8 566.2L920.7 564.4L921.0 562.7L921.7 561.0L922.8 559.3L924.2 557.6L925.9 555.9L927.9 554.1L930.1 552.4L932.5 550.7L934.9 549.0L937.3 547.3L939.6 545.6L941.8 543.9L943.8 542.1L945.6 540.4L947.1 538.7L948.4 537.0L949.4 535.3L950.0 533.6L950.5 531.9L950.6 530.1L950.5 528.4L950.2 526.7L949.8 525.0L949.1 523.3L948.4 521.6L947.5 519.9L946.7 518.1L945.8 516.4L945.0 514.7L944.2 513.0L943.6 511.3L943.2 509.6L942.9 507.8L942.9 506.1L943.0 504.4L943.4 502.7L943.9 501.0L944.6 499.3L945.4 497.6L946.3 495.8L947.3 494.1L948.2 492.4L949.2 490.7L950.1 489.0L951.0 487.3L951.7 485.6L952.4 483.8L953.0 482.1L953.5 480.4L953.9 478.7L954.3 477.0L954.5 475.3L954.7 473.6L954.9 471.8L955.0 470.1L955.1 468.4L955.2 466.7L955.4 466.7L955.5 468.4L955.6 470.1L955.7 471.8L955.9 473.6L956.1 475.3L956.3 477.0L956.7 478.7L957.1 480.4L957.6 482.1L958.2 483.8L958.9 485.6L959.6 487.3L960.5 489.0L961.4 490.7L962.4 492.4L963.3 494.1L964.3 495.8L965.2 497.6L966.0 499.3L966.7 501.0L967.2 502.7L967.6 504.4L967.7 506.1L967.7 507.8L967.4 509.6L967.0 511.3L966.4 513.0L965.6 514.7L964.8 516.4L963.9 518.1L963.1 519.9L962.2 521.6L961.5 523.3L960.8 525.0L960.4 526.7L960.1 528.4L960.0 530.1L960.1 531.9L960.6 533.6L961.2 535.3L962.2 537.0L963.5 538.7L965.0 540.4L966.8 542.1L968.8 543.9L971.0 545.6L973.3 547.3L975.7 549.0L978.1 550.7L980.5 552.4L982.7 554.1L984.7 555.9L986.4 557.6L987.8 559.3L988.9 561.0L989.6 562.7L989.9 564.4L989.8 566.2L989.5 567.9L988.8 569.6L987.9 571.3L986.8 573.0L985.6 574.7L984.3 576.4L983.0 578.2L981.7 579.9L980.4 581.6L979.2 583.3L978.0 585.0L976.9 586.7L975.7 588.4L974.7 590.2L973.6 591.9L972.4 593.6L971.3 595.3L970.1 597.0L968.9 598.7L967.6 600.4L966.4 602.2L965.1 603.9L963.9 605.6L962.8 607.3L961.7 609.0L960.6 610.7L959.7 612.4L958.9 614.2L958.2 615.9L957.6 617.6L957.1 619.3L956.7 621.0L956.3 622.7L956.1 624.5L955.9 626.2L955.7 627.9L955.6 629.6L955.5 631.3L955.4 633.0L955.4 634.7L955.4 636.5L955.3 638.2L955.3 639.9L955.3 641.6L955.3 643.3L955.3 645.0L955.3 646.7L955.3 648.5L955.3 650.2L955.3 651.9L955.3 653.6L955.3 655.3L955.4 657.0L955.4 658.7L955.5 660.5L955.5 662.2L955.6 663.9L955.8 665.6L956.0 667.3L956.2 669.0L956.5 670.8L956.9 672.5L957.3 674.2L957.8 675.9L958.5 677.6L959.2 679.3L960.0 681.0L960.9 682.8L961.8 684.5L962.8 686.2L963.8 687.9L964.7 689.6L965.6 691.3L966.3 693.0L966.9 694.8L967.4 696.5L967.7 698.2L967.7 699.9L967.6 701.6L967.2 703.3L966.7 705.0L966.0 706.8L965.2 708.5L964.3 710.2L963.3 711.9L962.4 713.6L961.4 715.3L960.5 717.0L959.6 718.8L958.9 720.5L958.2 722.2L957.6 723.9L957.1 725.6L956.7 727.3L956.3 729.1L956.1 730.8L955.9 732.5L955.7 734.2L955.6 735.9L955.5 737.6L955.4 739.3Z" fill="#E64B35" stroke="#000" stroke-width="1.7" stroke-linejoin="round"/>
<path d="M1070.4 656.5L1070.3 655.3L1070.3 654.1L1070.3 652.9L1070.2 651.7L1070.2 650.5L1070.2 649.2L1070.1 648.0L1070.0 646.8L1070.0 645.6L1069.9 644.4L1069.8 643.2L1069.7 641.9L1069.6 640.7L1069.4 639.5L1069.3 638.3L1069.1 637.1L1069.0 635.9L1068.8 634.6L1068.6 633.4L1068.4 632.2L1068.1 631.0L1067.9 629.8L1067.6 628.5L1067.3 627.3L1067.0 626.1L1066.6 624.9L1066.3 623.7L1065.9 622.5L1065.5 621.2L1065.1 620.0L1064.7 618.8L1064.3 617.6L1063.8 616.4L1063.4 615.2L1062.9 613.9L1062.4 612.7L1061.9 611.5L1061.4 610.3L1060.9 609.1L1060.5 607.9L1060.0 606.6L1059.5 605.4L1059.0 604.2L1058.6 603.0L1058.1 601.8L1057.7 600.5L1057.2 599.3L1056.8 598.1L1056.4 596.9L1056.0 595.7L1055.7 594.5L1055.3 593.2L1055.0 592.0L1054.7 590.8L1054.4 589.6L1054.1 588.4L1053.8 587.2L1053.6 585.9L1053.3 584.7L1053.1 583.5L1052.9 582.3L1052.7 581.1L1052.5 579.8L1052.3 578.6L1052.1 577.4L1051.9 576.2L1051.7 575.0L1051.5 573.8L1051.3 572.5L1051.1 571.3L1050.8 570.1L1050.6 568.9L1050.4 567.7L1050.2 566.5L1049.9 565.2L1049.6 564.0L1049.4 562.8L1049.1 561.6L1048.8 560.4L1048.5 559.2L1048.2 557.9L1047.8 556.7L1047.5 555.5L1047.2 554.3L1046.8 553.1L1046.5 551.8L1046.1 550.6L1045.8 549.4L1045.4 548.2L1045.1 547.0L1044.7 545.8L1044.4 544.5L1044.1 543.3L1043.8 542.1L1043.6 540.9L1043.3 539.7L1043.1 538.5L1043.0 537.2L1042.9 536.0L1042.8 534.8L1042.8 533.6L1042.8 532.4L1042.9 531.1L1043.0 529.9L1043.2 528.7L1043.4 527.5L1043.7 526.3L1044.1 525.1L1044.5 523.8L1045.0 522.6L1045.5 521.4L1046.1 520.2L1046.7 519.0L1047.4 517.8L1048.1 516.5L1048.9 515.3L1049.7 514.1L1050.5 512.9L1051.3 511.7L1052.2 510.5L1053.1 509.2L1053.9 508.0L1054.8 506.8L1055.7 505.6L1056.6 504.4L1057.5 503.1L1058.3 501.9L1059.1 500.7L1059.9 499.5L1060.7 498.3L1061.5 497.1L1062.2 495.8L1062.9 494.6L1063.5 493.4L1064.1 492.2L1064.7 491.0L1065.3 489.8L1065.8 488.5L1066.2 487.3L1066.7 486.1L1067.1 484.9L1067.5 483.7L1067.8 482.4L1068.1 481.2L1068.4 480.0L1068.6 478.8L1068.9 477.6L1069.1 476.4L1069.3 475.1L1069.4 473.9L1069.6 472.7L1069.7 471.5L1069.8 470.3L1069.9 469.1L1070.0 467.8L1070.1 466.6L1070.1 465.4L1070.2 464.2L1070.2 463.0L1070.8 463.0L1070.8 464.2L1070.9 465.4L1070.9 466.6L1071.0 467.8L1071.1 469.1L1071.2 470.3L1071.3 471.5L1071.4 472.7L1071.6 473.9L1071.7 475.1L1071.9 476.4L1072.1 477.6L1072.4 478.8L1072.6 480.0L1072.9 481.2L1073.2 482.4L1073.5 483.7L1073.9 484.9L1074.3 486.1L1074.8 487.3L1075.2 488.5L1075.7 489.8L1076.3 491.0L1076.9 492.2L1077.5 493.4L1078.1 494.6L1078.8 495.8L1079.5 497.1L1080.3 498.3L1081.1 499.5L1081.9 500.7L1082.7 501.9L1083.5 503.1L1084.4 504.4L1085.3 505.6L1086.2 506.8L1087.1 508.0L1087.9 509.2L1088.8 510.5L1089.7 511.7L1090.5 512.9L1091.3 514.1L1092.1 515.3L1092.9 516.5L1093.6 517.8L1094.3 519.0L1094.9 520.2L1095.5 521.4L1096.0 522.6L1096.5 523.8L1096.9 525.1L1097.3 526.3L1097.6 527.5L1097.8 528.7L1098.0 529.9L1098.1 531.1L1098.2 532.4L1098.2 533.6L1098.2 534.8L1098.1 536.0L1098.0 537.2L1097.9 538.5L1097.7 539.7L1097.4 540.9L1097.2 542.1L1096.9 543.3L1096.6 544.5L1096.3 545.8L1095.9 547.0L1095.6 548.2L1095.2 549.4L1094.9 550.6L1094.5 551.8L1094.2 553.1L1093.8 554.3L1093.5 555.5L1093.2 556.7L1092.8 557.9L1092.5 559.2L1092.2 560.4L1091.9 561.6L1091.6 562.8L1091.4 564.0L1091.1 565.2L1090.8 566.5L1090.6 567.7L1090.4 568.9L1090.2 570.1L1089.9 571.3L1089.7 572.5L1089.5 573.8L1089.3 575.0L1089.1 576.2L1088.9 577.4L1088.7 578.6L1088.5 579.8L1088.3 581.1L1088.1 582.3L1087.9 583.5L1087.7 584.7L1087.4 585.9L1087.2 587.2L1086.9 588.4L1086.6 589.6L1086.3 590.8L1086.0 592.0L1085.7 593.2L1085.3 594.5L1085.0 595.7L1084.6 596.9L1084.2 598.1L1083.8 599.3L1083.3 600.5L1082.9 601.8L1082.4 603.0L1082.0 604.2L1081.5 605.4L1081.0 606.6L1080.5 607.9L1080.1 609.1L1079.6 610.3L1079.1 611.5L1078.6 612.7L1078.1 613.9L1077.6 615.2L1077.2 616.4L1076.7 617.6L1076.3 618.8L1075.9 620.0L1075.5 621.2L1075.1 622.5L1074.7 623.7L1074.4 624.9L1074.0 626.1L1073.7 627.3L1073.4 628.5L1073.1 629.8L1072.9 631.0L1072.6 632.2L1072.4 633.4L1072.2 634.6L1072.0 635.9L1071.9 637.1L1071.7 638.3L1071.6 639.5L1071.4 640.7L1071.3 641.9L1071.2 643.2L1071.1 644.4L1071.0 645.6L1071.0 646.8L1070.9 648.0L1070.8 649.2L1070.8 650.5L1070.8 651.7L1070.7 652.9L1070.7 654.1L1070.7 655.3L1070.6 656.5Z" fill="#4DBBD5" stroke="#000" stroke-width="1.7" stroke-linejoin="round"/>
<text x="942.6" y="507" font-size="17.4" fill="#111">p = 0.51</text>
<rect x="1278" y="420" width="252.5" height="29" fill="#f2f2f2" stroke="#222" stroke-width="1.3"/>
<text x="1404.25" y="440" font-size="16" text-anchor="middle" fill="#1a1a1a">Evenness</text>
<path d="M1278 449V753H1531" fill="none" stroke="#000" stroke-width="1.7"/>
<path d="M1346.3 753v5.2" stroke="#000" stroke-width="1.7"/>
<path d="M1461.3 753v5.2" stroke="#000" stroke-width="1.7"/>
<path d="M1272.4 523.5H1278" stroke="#000" stroke-width="1.7"/>
<text x="1268.2" y="530.3" font-size="18.4" text-anchor="end" fill="#000">0.9</text>
<path d="M1272.4 610.8H1278" stroke="#000" stroke-width="1.7"/>
<text x="1268.2" y="617.6" font-size="18.4" text-anchor="end" fill="#000">0.6</text>
<path d="M1272.4 698.1H1278" stroke="#000" stroke-width="1.7"/>
<text x="1268.2" y="704.9" font-size="18.4" text-anchor="end" fill="#000">0.3</text>
<path d="M1346.2 707.7L1346.2 706.1L1346.2 704.6L1346.2 703.1L1346.1 701.5L1346.1 700.0L1346.0 698.4L1346.0 696.9L1345.9 695.4L1345.8 693.8L1345.8 692.3L1345.7 690.7L1345.6 689.2L1345.4 687.7L1345.3 686.1L1345.1 684.6L1345.0 683.0L1344.8 681.5L1344.5 680.0L1344.3 678.4L1344.1 676.9L1343.8 675.3L1343.5 673.8L1343.2 672.3L1342.8 670.7L1342.5 669.2L1342.1 667.6L1341.7 666.1L1341.3 664.5L1340.9 663.0L1340.4 661.5L1340.0 659.9L1339.5 658.4L1339.1 656.8L1338.6 655.3L1338.1 653.8L1337.6 652.2L1337.2 650.7L1336.7 649.1L1336.2 647.6L1335.7 646.1L1335.2 644.5L1334.7 643.0L1334.3 641.4L1333.8 639.9L1333.3 638.4L1332.9 636.8L1332.4 635.3L1331.9 633.7L1331.5 632.2L1331.1 630.7L1330.6 629.1L1330.2 627.6L1329.8 626.0L1329.4 624.5L1329.1 623.0L1328.8 621.4L1328.4 619.9L1328.2 618.3L1327.9 616.8L1327.7 615.3L1327.5 613.7L1327.4 612.2L1327.3 610.6L1327.2 609.1L1327.2 607.6L1327.1 606.0L1327.2 604.5L1327.2 602.9L1327.3 601.4L1327.4 599.9L1327.5 598.3L1327.7 596.8L1327.9 595.2L1328.1 593.7L1328.3 592.2L1328.5 590.6L1328.7 589.1L1328.9 587.5L1329.1 586.0L1329.4 584.5L1329.6 582.9L1329.9 581.4L1330.1 579.8L1330.4 578.3L1330.6 576.7L1330.9 575.2L1331.2 573.7L1331.4 572.1L1331.7 570.6L1332.0 569.0L1332.3 567.5L1332.5 566.0L1332.8 564.4L1333.1 562.9L1333.4 561.3L1333.6 559.8L1333.9 558.3L1334.2 556.7L1334.4 555.2L1334.7 553.6L1334.9 552.1L1335.1 550.6L1335.3 549.0L1335.5 547.5L1335.7 545.9L1335.9 544.4L1336.1 542.9L1336.2 541.3L1336.4 539.8L1336.5 538.2L1336.7 536.7L1336.8 535.2L1337.0 533.6L1337.1 532.1L1337.3 530.5L1337.5 529.0L1337.7 527.5L1337.9 525.9L1338.1 524.4L1338.3 522.8L1338.6 521.3L1338.8 519.8L1339.1 518.2L1339.4 516.7L1339.7 515.1L1340.0 513.6L1340.4 512.1L1340.7 510.5L1341.0 509.0L1341.4 507.4L1341.7 505.9L1342.1 504.4L1342.4 502.8L1342.7 501.3L1343.0 499.7L1343.3 498.2L1343.6 496.7L1343.9 495.1L1344.1 493.6L1344.4 492.0L1344.6 490.5L1344.8 488.9L1345.0 487.4L1345.2 485.9L1345.3 484.3L1345.4 482.8L1345.6 481.2L1345.7 479.7L1345.8 478.2L1345.9 476.6L1345.9 475.1L1346.0 473.5L1346.0 472.0L1346.1 470.5L1346.1 468.9L1346.2 467.4L1346.2 465.8L1346.2 464.3L1346.2 462.8L1346.4 462.8L1346.4 464.3L1346.4 465.8L1346.4 467.4L1346.5 468.9L1346.5 470.5L1346.6 472.0L1346.6 473.5L1346.7 475.1L1346.7 476.6L1346.8 478.2L1346.9 479.7L1347.0 481.2L1347.2 482.8L1347.3 484.3L1347.4 485.9L1347.6 487.4L1347.8 488.9L1348.0 490.5L1348.2 492.0L1348.5 493.6L1348.7 495.1L1349.0 496.7L1349.3 498.2L1349.6 499.7L1349.9 501.3L1350.2 502.8L1350.5 504.4L1350.9 505.9L1351.2 507.4L1351.6 509.0L1351.9 510.5L1352.2 512.1L1352.6 513.6L1352.9 515.1L1353.2 516.7L1353.5 518.2L1353.8 519.8L1354.0 521.3L1354.3 522.8L1354.5 524.4L1354.7 525.9L1354.9 527.5L1355.1 529.0L1355.3 530.5L1355.5 532.1L1355.6 533.6L1355.8 535.2L1355.9 536.7L1356.1 538.2L1356.2 539.8L1356.4 541.3L1356.5 542.9L1356.7 544.4L1356.9 545.9L1357.1 547.5L1357.3 549.0L1357.5 550.6L1357.7 552.1L1357.9 553.6L1358.2 555.2L1358.4 556.7L1358.7 558.3L1359.0 559.8L1359.2 561.3L1359.5 562.9L1359.8 564.4L1360.1 566.0L1360.3 567.5L1360.6 569.0L1360.9 570.6L1361.2 572.1L1361.4 573.7L1361.7 575.2L1362.0 576.7L1362.2 578.3L1362.5 579.8L1362.7 581.4L1363.0 582.9L1363.2 584.5L1363.5 586.0L1363.7 587.5L1363.9 589.1L1364.1 590.6L1364.3 592.2L1364.5 593.7L1364.7 595.2L1364.9 596.8L1365.1 598.3L1365.2 599.9L1365.3 601.4L1365.4 602.9L1365.4 604.5L1365.5 606.0L1365.4 607.6L1365.4 609.1L1365.3 610.6L1365.2 612.2L1365.1 613.7L1364.9 615.3L1364.7 616.8L1364.4 618.3L1364.2 619.9L1363.8 621.4L1363.5 623.0L1363.2 624.5L1362.8 626.0L1362.4 627.6L1362.0 629.1L1361.5 630.7L1361.1 632.2L1360.7 633.7L1360.2 635.3L1359.7 636.8L1359.3 638.4L1358.8 639.9L1358.3 641.4L1357.9 643.0L1357.4 644.5L1356.9 646.1L1356.4 647.6L1355.9 649.1L1355.4 650.7L1355.0 652.2L1354.5 653.8L1354.0 655.3L1353.5 656.8L1353.1 658.4L1352.6 659.9L1352.2 661.5L1351.7 663.0L1351.3 664.5L1350.9 666.1L1350.5 667.6L1350.1 669.2L1349.8 670.7L1349.4 672.3L1349.1 673.8L1348.8 675.3L1348.5 676.9L1348.3 678.4L1348.1 680.0L1347.8 681.5L1347.6 683.0L1347.5 684.6L1347.3 686.1L1347.2 687.7L1347.0 689.2L1346.9 690.7L1346.8 692.3L1346.8 693.8L1346.7 695.4L1346.6 696.9L1346.6 698.4L1346.5 700.0L1346.5 701.5L1346.4 703.1L1346.4 704.6L1346.4 706.1L1346.4 707.7Z" fill="#E64B35" stroke="#000" stroke-width="1.7" stroke-linejoin="round"/>
<path d="M1461.1 740.7L1461.1 739.7L1461.0 738.6L1460.9 737.5L1460.8 736.5L1460.7 735.4L1460.5 734.3L1460.3 733.3L1460.1 732.2L1459.9 731.1L1459.6 730.1L1459.2 729.0L1458.8 727.9L1458.4 726.9L1457.9 725.8L1457.3 724.7L1456.7 723.7L1456.0 722.6L1455.3 721.5L1454.5 720.5L1453.7 719.4L1452.9 718.3L1452.0 717.2L1451.1 716.2L1450.2 715.1L1449.3 714.0L1448.4 713.0L1447.6 711.9L1446.8 710.8L1446.1 709.8L1445.5 708.7L1445.0 707.6L1444.5 706.6L1444.2 705.5L1444.0 704.4L1444.0 703.4L1444.0 702.3L1444.2 701.2L1444.5 700.2L1444.9 699.1L1445.4 698.0L1446.0 697.0L1446.7 695.9L1447.4 694.8L1448.1 693.8L1448.9 692.7L1449.7 691.6L1450.4 690.6L1451.1 689.5L1451.7 688.4L1452.3 687.4L1452.7 686.3L1453.1 685.2L1453.3 684.2L1453.4 683.1L1453.4 682.0L1453.1 681.0L1452.8 679.9L1452.2 678.8L1451.5 677.8L1450.7 676.7L1449.7 675.6L1448.5 674.6L1447.2 673.5L1445.7 672.4L1444.2 671.4L1442.6 670.3L1440.9 669.2L1439.2 668.2L1437.5 667.1L1435.8 666.0L1434.2 664.9L1432.6 663.9L1431.2 662.8L1429.9 661.7L1428.8 660.7L1428.0 659.6L1427.3 658.5L1426.9 657.5L1426.7 656.4L1426.8 655.3L1427.1 654.3L1427.7 653.2L1428.5 652.1L1429.5 651.1L1430.7 650.0L1432.0 648.9L1433.5 647.9L1435.1 646.8L1436.8 645.7L1438.5 644.7L1440.3 643.6L1442.0 642.5L1443.6 641.5L1445.2 640.4L1446.7 639.3L1448.1 638.3L1449.4 637.2L1450.5 636.1L1451.4 635.1L1452.2 634.0L1452.8 632.9L1453.3 631.9L1453.6 630.8L1453.8 629.7L1453.8 628.7L1453.6 627.6L1453.4 626.5L1453.0 625.5L1452.5 624.4L1451.9 623.3L1451.2 622.3L1450.5 621.2L1449.7 620.1L1449.0 619.1L1448.2 618.0L1447.4 616.9L1446.7 615.9L1446.0 614.8L1445.4 613.7L1444.9 612.6L1444.5 611.6L1444.2 610.5L1444.0 609.4L1444.0 608.4L1444.0 607.3L1444.2 606.2L1444.5 605.2L1445.0 604.1L1445.5 603.0L1446.1 602.0L1446.8 600.9L1447.6 599.8L1448.4 598.8L1449.3 597.7L1450.2 596.6L1451.1 595.6L1452.0 594.5L1452.9 593.4L1453.7 592.4L1454.5 591.3L1455.3 590.2L1456.0 589.2L1456.7 588.1L1457.3 587.0L1457.9 586.0L1458.4 584.9L1458.8 583.8L1459.2 582.8L1459.6 581.7L1459.9 580.6L1460.1 579.6L1460.3 578.5L1460.5 577.4L1460.7 576.4L1460.8 575.3L1460.9 574.2L1461.0 573.2L1461.1 572.1L1461.1 571.0L1461.5 571.0L1461.5 572.1L1461.6 573.2L1461.7 574.2L1461.8 575.3L1461.9 576.4L1462.1 577.4L1462.3 578.5L1462.5 579.6L1462.7 580.6L1463.0 581.7L1463.4 582.8L1463.8 583.8L1464.2 584.9L1464.7 586.0L1465.3 587.0L1465.9 588.1L1466.6 589.2L1467.3 590.2L1468.1 591.3L1468.9 592.4L1469.7 593.4L1470.6 594.5L1471.5 595.6L1472.4 596.6L1473.3 597.7L1474.2 598.8L1475.0 599.8L1475.8 600.9L1476.5 602.0L1477.1 603.0L1477.6 604.1L1478.1 605.2L1478.4 606.2L1478.6 607.3L1478.6 608.4L1478.6 609.4L1478.4 610.5L1478.1 611.6L1477.7 612.6L1477.2 613.7L1476.6 614.8L1475.9 615.9L1475.2 616.9L1474.4 618.0L1473.6 619.1L1472.9 620.1L1472.1 621.2L1471.4 622.3L1470.7 623.3L1470.1 624.4L1469.6 625.5L1469.2 626.5L1469.0 627.6L1468.8 628.7L1468.8 629.7L1469.0 630.8L1469.3 631.9L1469.8 632.9L1470.4 634.0L1471.2 635.1L1472.1 636.1L1473.2 637.2L1474.5 638.3L1475.9 639.3L1477.4 640.4L1479.0 641.5L1480.6 642.5L1482.3 643.6L1484.1 644.7L1485.8 645.7L1487.5 646.8L1489.1 647.9L1490.6 648.9L1491.9 650.0L1493.1 651.1L1494.1 652.1L1494.9 653.2L1495.5 654.3L1495.8 655.3L1495.9 656.4L1495.7 657.5L1495.3 658.5L1494.6 659.6L1493.8 660.7L1492.7 661.7L1491.4 662.8L1490.0 663.9L1488.4 664.9L1486.8 666.0L1485.1 667.1L1483.4 668.2L1481.7 669.2L1480.0 670.3L1478.4 671.4L1476.9 672.4L1475.4 673.5L1474.1 674.6L1472.9 675.6L1471.9 676.7L1471.1 677.8L1470.4 678.8L1469.8 679.9L1469.5 681.0L1469.2 682.0L1469.2 683.1L1469.3 684.2L1469.5 685.2L1469.9 686.3L1470.3 687.4L1470.9 688.4L1471.5 689.5L1472.2 690.6L1472.9 691.6L1473.7 692.7L1474.5 693.8L1475.2 694.8L1475.9 695.9L1476.6 697.0L1477.2 698.0L1477.7 699.1L1478.1 700.2L1478.4 701.2L1478.6 702.3L1478.6 703.4L1478.6 704.4L1478.4 705.5L1478.1 706.6L1477.6 707.6L1477.1 708.7L1476.5 709.8L1475.8 710.8L1475.0 711.9L1474.2 713.0L1473.3 714.0L1472.4 715.1L1471.5 716.2L1470.6 717.2L1469.7 718.3L1468.9 719.4L1468.1 720.5L1467.3 721.5L1466.6 722.6L1465.9 723.7L1465.3 724.7L1464.7 725.8L1464.2 726.9L1463.8 727.9L1463.4 729.0L1463.0 730.1L1462.7 731.1L1462.5 732.2L1462.3 733.3L1462.1 734.3L1461.9 735.4L1461.8 736.5L1461.7 737.5L1461.6 738.6L1461.5 739.7L1461.5 740.7Z" fill="#4DBBD5" stroke="#000" stroke-width="1.7" stroke-linejoin="round"/>
<text x="1331.3" y="526.3" font-size="17.4" fill="#111">p = 0.067</text>
</svg></body></html>
